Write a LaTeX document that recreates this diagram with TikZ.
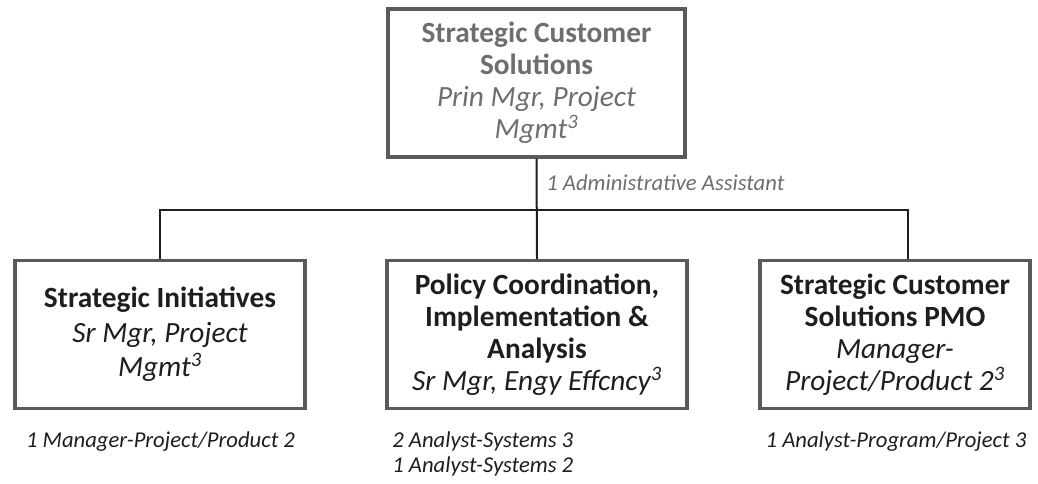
\documentclass[tikz,border=0pt]{standalone}
\usepackage{fontspec}
\setmainfont{Carlito}
\definecolor{boxgray}{HTML}{5A5A5A}
\definecolor{txtgray}{HTML}{6E6E6E}
\definecolor{ink}{HTML}{1E1E1E}
\begin{document}
\begin{tikzpicture}[x=0.75pt,y=-0.75pt,
  orgbox/.style={draw=boxgray,line width=2.3pt,align=center,inner sep=2pt,text=ink,
    font=\fontsize{22}{24}\selectfont},
  conn/.style={draw=ink,line width=1.5pt},
  staff/.style={font=\fontsize{17}{18}\selectfont\itshape,inner sep=0pt,text=ink}]
\useasboundingbox (0,0) rectangle (1038,484);
\node[orgbox,text=txtgray,minimum width=297*0.75pt,minimum height=148*0.75pt] (top) at (536.5,83)
  {\textbf{Strategic Customer}\\\textbf{Solutions}\\\textit{Prin Mgr, Project}\\\textit{Mgmt\textsuperscript{3}}};
\node[orgbox,font=\fontsize{22}{26}\selectfont,minimum width=290*0.75pt,minimum height=148*0.75pt] (si) at (160,334.5)
  {\textbf{Strategic Initiatives}\\\textit{Sr Mgr, Project}\\\textit{Mgmt\textsuperscript{3}}};
\node[orgbox,minimum width=300*0.75pt,minimum height=148*0.75pt] (pc) at (537,334.5)
  {\textbf{Policy Coordination,}\\\textbf{Implementation \&}\\\textbf{Analysis}\\\textit{Sr Mgr, Engy Effcncy\textsuperscript{3}}};
\node[orgbox,minimum width=270*0.75pt,minimum height=148*0.75pt] (pmo) at (895,334.5)
  {\textbf{Strategic Customer}\\\textbf{Solutions PMO}\\\textit{Manager-}\\\textit{Project/Product 2\textsuperscript{3}}};
\coordinate (hl) at (160,210);
\coordinate (hr) at (908,210);
\draw[conn] (top.south) -- (pc.north);
\draw[conn] (si.north) -- (hl) -- (hr) -- (hr |- pmo.north);
\node[staff,text=txtgray,anchor=base west] (aa) at (546,191) {1 Administrative Assistant};
\node[staff,anchor=base] (s1) at (160.5,447) {1 Manager-Project/Product 2};
\node[staff,anchor=base west] (s2a) at (392,447) {2 Analyst-Systems 3};
\node[staff,anchor=base west] (s2b) at (392,472) {1 Analyst-Systems 2};
\node[staff,anchor=base] (s3) at (896,447) {1 Analyst-Program/Project 3};
\end{tikzpicture}
\end{document}
